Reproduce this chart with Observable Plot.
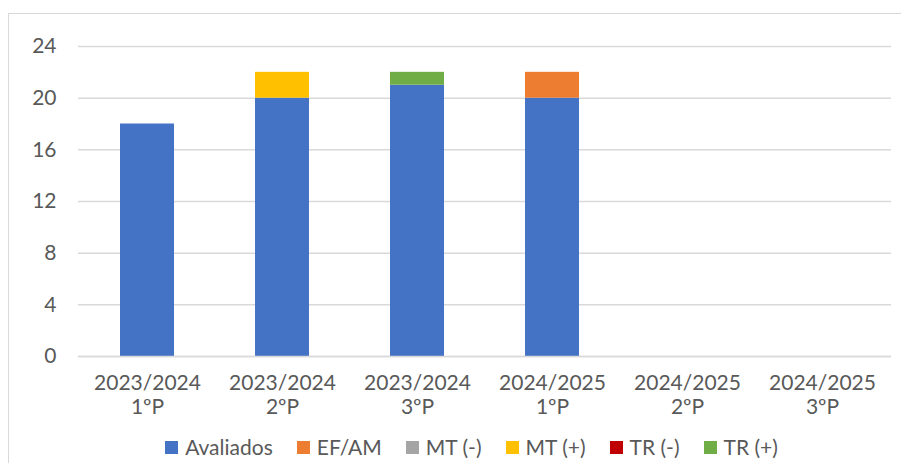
<!DOCTYPE html>
<html>
<head>
<meta charset="utf-8">
<script src="https://cdn.jsdelivr.net/npm/d3@7"></script>
<script src="https://cdn.jsdelivr.net/npm/@observablehq/plot@0.6"></script>
<style>
  html, body { margin: 0; padding: 0; background: #fff; }
  body { width: 901px; height: 463px; position: relative; overflow: hidden; font-family: Lato, "Noto Sans", sans-serif; }
  #frame { position: absolute; left: 8px; top: 13px; width: 1000px; height: 1000px; border: 1px solid #d9d9d9; box-sizing: border-box; }
  #chart { position: absolute; left: 0; top: 0; }
  #legend { position: absolute; left: 0; top: 433px; width: 901px; display: flex; justify-content: center; gap: 24px; font-size: 21px; line-height: 28px; color: #595959; padding-left: 42px; box-sizing: border-box; }
  .item { display: flex; align-items: center; gap: 7px; }
  .sw { width: 13px; height: 13px; display: inline-block; }
</style>
</head>
<body>
<div id="frame"></div>
<div id="chart"></div>
<div id="legend"></div>
<script>
const years = ["2023/2024", "2023/2024", "2023/2024", "2024/2025", "2024/2025", "2024/2025"];
const periods = ["1ºP", "2ºP", "3ºP", "1ºP", "2ºP", "3ºP"];
const seriesNames = ["Avaliados", "EF/AM", "MT (-)", "MT (+)", "TR (-)", "TR (+)"];
const seriesColors = ["#4472C4", "#ED7D31", "#A5A5A5", "#FFC000", "#C00000", "#70AD47"];
const avaliados = [18, 20, 21, 20, 0, 0];
const efam = [0, 0, 0, 2, 0, 0];
const mtMinus = [0, 0, 0, 0, 0, 0];
const mtPlus = [0, 2, 0, 0, 0, 0];
const trMinus = [0, 0, 0, 0, 0, 0];
const trPlus = [0, 0, 1, 0, 0, 0];
const yTicks = [0, 4, 8, 12, 16, 20, 24];

const categories = years.map((y, i) => y + "\n" + periods[i]);
const seriesValues = [avaliados, efam, mtMinus, mtPlus, trMinus, trPlus];
const data = [];
seriesNames.forEach((s, si) => {
  categories.forEach((c, ci) => {
    data.push({cat: c, series: s, value: seriesValues[si][ci]});
  });
});

const plot = Plot.plot({
  width: 901,
  height: 432,
  marginLeft: 78,
  marginRight: 10,
  marginTop: 46,
  marginBottom: 76,
  style: {fontFamily: "Lato, 'Noto Sans', sans-serif", fontSize: "21px", color: "#595959", background: "transparent"},
  x: {domain: categories, paddingInner: 0.6, paddingOuter: 0.3, label: null},
  y: {domain: [0, 24], ticks: yTicks, label: null},
  color: {domain: seriesNames, range: seriesColors},
  marks: [
    Plot.gridY(yTicks, {stroke: "#d9d9d9", strokeOpacity: 1, strokeWidth: 1.5}),
    Plot.barY(data, Plot.stackY({x: "cat", y: "value", fill: "series", order: seriesNames, filter: d => d.value > 0})),
    Plot.ruleY([0], {stroke: "#d9d9d9", strokeWidth: 1.5}),
    Plot.axisY(yTicks, {tickSize: 0, tickPadding: 22, fill: "#595959", fontSize: 21}),
    Plot.axisX({tickSize: 0, tickPadding: 16, fill: "#595959", fontSize: 21, lineHeight: 1.15})
  ]
});
document.getElementById("chart").appendChild(plot);

const legend = document.getElementById("legend");
seriesNames.forEach((s, i) => {
  const it = document.createElement("div");
  it.className = "item";
  const sw = document.createElement("span");
  sw.className = "sw";
  sw.style.background = seriesColors[i];
  const tx = document.createElement("span");
  tx.textContent = s;
  it.appendChild(sw);
  it.appendChild(tx);
  legend.appendChild(it);
});
</script>
</body>
</html>
